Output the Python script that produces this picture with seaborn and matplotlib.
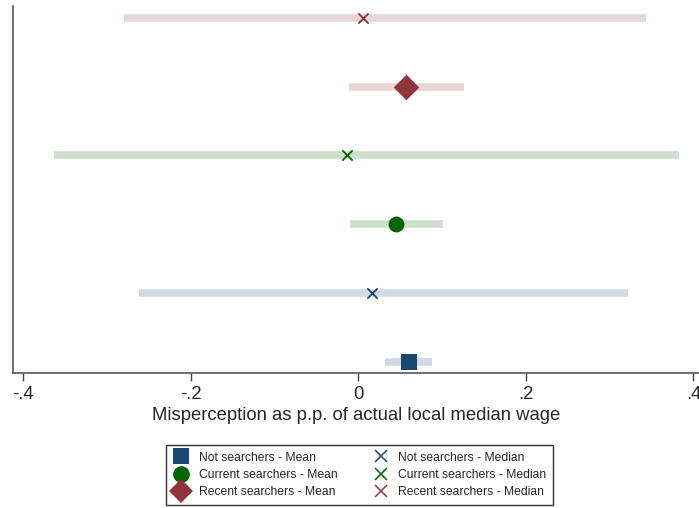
import matplotlib
matplotlib.use('Agg')
import pandas as pd
import seaborn as sns
from matplotlib import pyplot as plt
from matplotlib.lines import Line2D

# rows from bottom to top
labels = ['Not searchers - Mean', 'Not searchers - Median',
          'Current searchers - Mean', 'Current searchers - Median',
          'Recent searchers - Mean', 'Recent searchers - Median']
groups = ['Not', 'Not', 'Current', 'Current', 'Recent', 'Recent']
stats = ['Mean', 'Median', 'Mean', 'Median', 'Mean', 'Median']
estimate = [0.060, 0.016, 0.045, -0.014, 0.057, 0.005]
ci_low = [0.032, -0.262, -0.010, -0.363, -0.011, -0.280]
ci_high = [0.088, 0.322, 0.101, 0.383, 0.126, 0.343]

colors = {'Not': '#1a476f', 'Current': '#006400', 'Recent': '#90353b'}
mean_markers = {'Not': 's', 'Current': 'o', 'Recent': 'D'}

df = pd.DataFrame({'label': labels, 'group': groups, 'stat': stats,
                   'est': estimate, 'lo': ci_low, 'hi': ci_high})
df['row'] = range(1, len(df) + 1)

sns.set_style('white')
plt.rcParams['font.family'] = ['Liberation Sans', 'DejaVu Sans']

fig = plt.figure(figsize=(6.99, 5.08), dpi=100)
ax = fig.add_axes([0.0179, 0.2657, 0.9821, 0.7223])

# confidence bands
for _, r in df.iterrows():
    ax.hlines(r['row'], r['lo'], r['hi'], color=colors[r['group']],
              alpha=0.2, lw=5.5, zorder=1)

means = df[df['stat'] == 'Mean']
medians = df[df['stat'] == 'Median']

sizes = {'Not': 120, 'Current': 130, 'Recent': 170}
for g in ['Not', 'Current', 'Recent']:
    sub = means[means['group'] == g]
    sns.scatterplot(data=sub, x='est', y='row', marker=mean_markers[g],
                    color=colors[g], s=sizes[g], linewidth=0, ax=ax,
                    zorder=3, legend=False)
    sub = medians[medians['group'] == g]
    sns.scatterplot(data=sub, x='est', y='row', marker='x',
                    color=colors[g], s=55, linewidth=1.3, ax=ax,
                    zorder=3, legend=False)

ax.set_xlim(-0.413, 0.4066)
ax.set_ylim(0.833, 6.175)
ax.set_xticks([-0.4, -0.2, 0, 0.2, 0.4])
ax.set_xticklabels(['-.4', '-.2', '0', '.2', '.4'], fontsize=13.3)
ax.set_yticks([])
ax.set_ylabel('')
ax.set_xlabel('Misperception as p.p. of actual local median wage',
              fontsize=13.3, labelpad=3)
ax.tick_params(axis='x', direction='out', length=6, width=1,
               color='#444444', bottom=True, pad=3)
for side in ['top', 'right']:
    ax.spines[side].set_visible(False)
for side in ['left', 'bottom']:
    ax.spines[side].set_color('#555555')
    ax.spines[side].set_linewidth(1.2)

handles = []
for g in ['Not', 'Current', 'Recent']:
    handles.append(Line2D([], [], ls='', marker=mean_markers[g],
                          color=colors[g], markersize=12,
                          markeredgewidth=0))
for g in ['Not', 'Current', 'Recent']:
    handles.append(Line2D([], [], ls='', marker='x', color=colors[g],
                          markersize=8, markeredgewidth=1.1))
leg_labels = list(means['label']) + list(medians['label'])
fig.legend(handles, leg_labels, ncol=2, loc='center',
           bbox_to_anchor=(0.514, 0.065), fontsize=8.7, frameon=True,
           fancybox=False, edgecolor='black', handletextpad=0.7,
           columnspacing=2.8, labelspacing=0.45, borderpad=0.55,
           borderaxespad=0, handlelength=1.5)

fig.savefig('out.png', dpi=100)
